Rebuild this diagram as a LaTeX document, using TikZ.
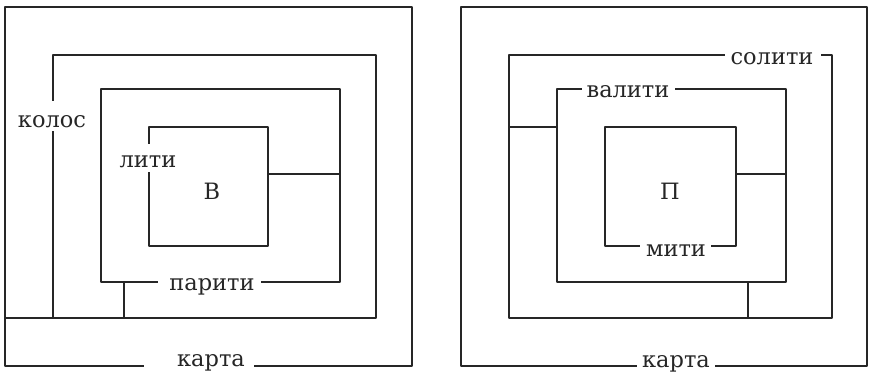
\documentclass[tikz,border=0pt]{standalone}
\usepackage{fontspec}
\setmainfont{DejaVu Serif}
\tikzset{every picture/.style={line width=1.3pt}}
\tikzset{lbl/.style={anchor=base, inner sep=0pt, font=\fontsize{22.5}{26}\selectfont}}

\begin{document}
\begin{tikzpicture}[x=1pt, y=-1pt, line join = round, line cap = rect, color=black!85]
				\useasboundingbox (0,0) rectangle (869,373);
				% left maze
				\path (5,7)coordinate(A1) (412,7)coordinate(A2) (412,366)coordinate(A3) (5,366)coordinate(A4)
				(143,366)coordinate(a1) (255,366)coordinate(a2)
				(53,55)coordinate(B1) (376,55)coordinate(B2) (376,318)coordinate(B3) (5,318)coordinate(B4)
				(53,318)coordinate(B5) (53,100)coordinate(b1) (53,132)coordinate(b2)
				(101,89)coordinate(C1) (340,89)coordinate(C2) (340,282)coordinate(C3) (101,282)coordinate(C4)
				(157,282)coordinate(c1) (262,282)coordinate(c2) (124,282)coordinate(c3) (124,318)coordinate(c4)
				(149,127)coordinate(D1) (268,127)coordinate(D2) (268,246)coordinate(D3) (149,246)coordinate(D4)
				(149,143)coordinate(d1) (149,173)coordinate(d2) (268,174)coordinate(d3) (340,174)coordinate(d4);
				\draw (a1)--(A4)--(A1)--(A2)--(A3)--(a2);
				\draw (B4)--(B3)--(B2)--(B1)--(b1) (b2)--(B5);
				\draw (c1)--(C4)--(C1)--(C2)--(C3)--(c2) (c3)--(c4);
				\draw (d1)--(D1)--(D2)--(D3)--(D4)--(d2) (d3)--(d4);
				% right maze
				\path (461,7)coordinate(E1) (867,7)coordinate(E2) (867,366)coordinate(E3) (461,366)coordinate(E4)
				(636,366)coordinate(e1) (716,366)coordinate(e2)
				(509,55)coordinate(F1) (832,55)coordinate(F2) (832,318)coordinate(F3) (509,318)coordinate(F4)
				(724,55)coordinate(f1) (822,55)coordinate(f2)
				(557,89)coordinate(G1) (786,89)coordinate(G2) (786,282)coordinate(G3) (557,282)coordinate(G4)
				(581,89)coordinate(g1) (676,89)coordinate(g2) (509,127)coordinate(g3) (557,127)coordinate(g4)
				(605,127)coordinate(H1) (736,127)coordinate(H2) (736,246)coordinate(H3) (605,246)coordinate(H4)
				(639,246)coordinate(h1) (712,246)coordinate(h2) (736,174)coordinate(h3) (786,174)coordinate(h4)
				(748,282)coordinate(h5) (748,318)coordinate(h6);
				\draw (e1)--(E4)--(E1)--(E2)--(E3)--(e2);
				\draw (f1)--(F1)--(F4)--(F3)--(F2)--(f2);
				\draw (g1)--(G1)--(G4)--(G3)--(G2)--(g2) (g3)--(g4);
				\draw (h1)--(H4)--(H1)--(H2)--(H3)--(h2) (h3)--(h4) (h5)--(h6);
				% labels
				\foreach \n/\x/\y/\t in {kartaL/211/366/карта, kolos/52/127/колос, pariti/212/290/парити, liti/148/167/лити, vL/212/199/В,
					kartaR/676/367/карта, soliti/772/64/солити, valiti/628/97/валити, miti/676/256/мити, pR/670/199/П}
					\node[lbl] (\n) at (\x,\y) {\t};
			\end{tikzpicture}
\end{document}
